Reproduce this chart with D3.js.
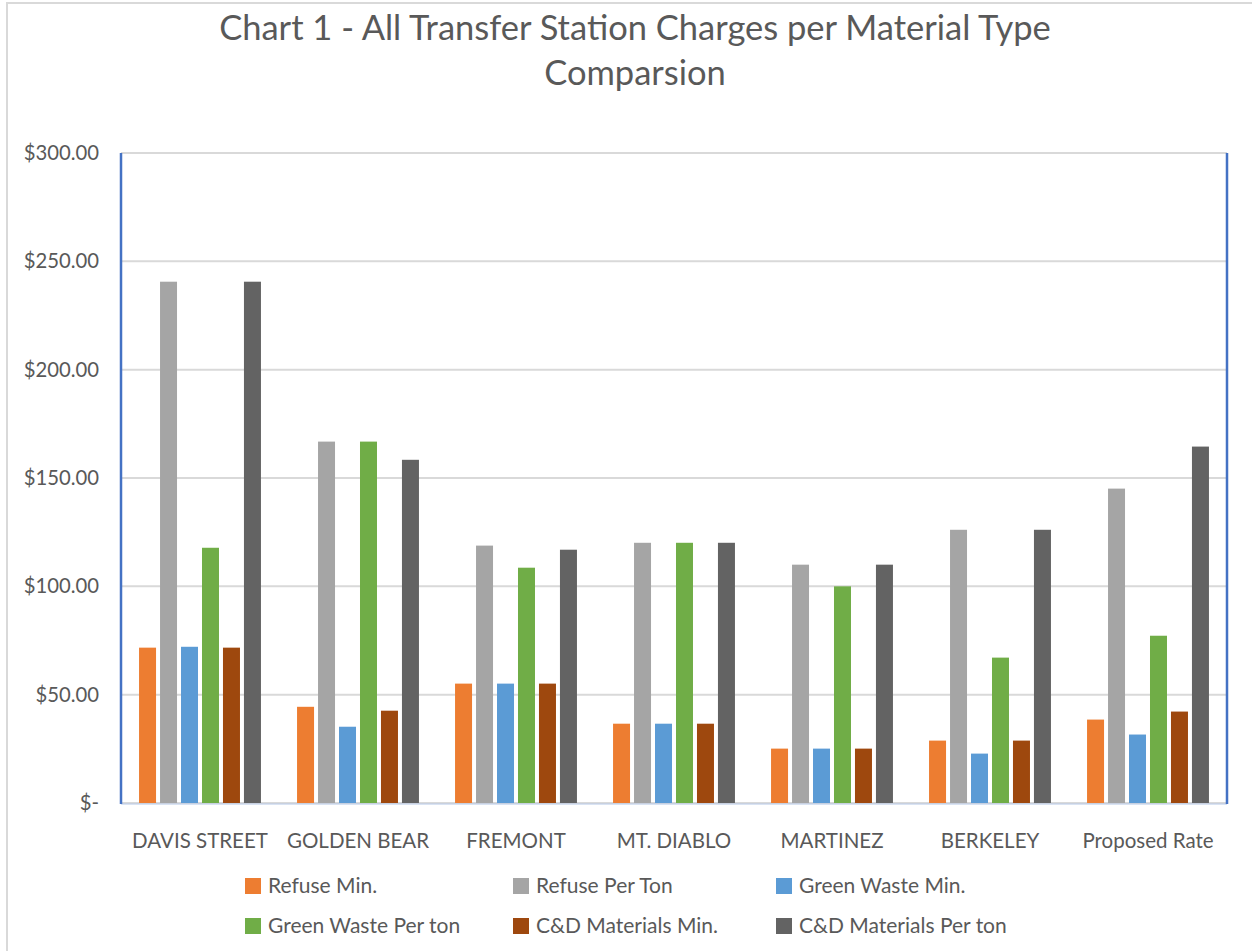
<!DOCTYPE html>
<html>
<head>
<meta charset="utf-8">
<script src="https://cdn.jsdelivr.net/npm/d3@7"></script>
<style>
  body { margin: 0; background: #fff; }
  svg { display: block; font-family: Lato, "Open Sans", sans-serif; }
  .tick text { fill: #595959; }
</style>
</head>
<body>
<svg id="chart" width="1252" height="951"></svg>
<script>
const stations = ["DAVIS STREET", "GOLDEN BEAR", "FREMONT", "MT. DIABLO", "MARTINEZ", "BERKELEY", "Proposed Rate"];
const seriesNames = ["Refuse Min.", "Refuse Per Ton", "Green Waste Min.", "Green Waste Per ton", "C&D Materials Min.", "C&D Materials Per ton"];
const seriesColors = ["#ED7D31", "#A5A5A5", "#5B9BD5", "#70AD47", "#9E480E", "#636363"];

const refuseMin = [71.7, 44.4, 55.1, 36.6, 25.1, 28.8, 38.5];
const refusePerTon = [240.6, 166.8, 118.8, 120.1, 110.0, 126.1, 145.1];
const greenMin = [72.1, 35.2, 55.1, 36.6, 25.1, 22.8, 31.6];
const greenPerTon = [117.8, 166.8, 108.6, 120.1, 100.0, 67.1, 77.2];
const cdMin = [71.7, 42.6, 55.1, 36.6, 25.1, 28.8, 42.2];
const cdPerTon = [240.6, 158.4, 116.9, 120.1, 110.0, 126.1, 164.5];

const yTicks = [0, 50, 100, 150, 200, 250, 300];

const seriesValues = [refuseMin, refusePerTon, greenMin, greenPerTon, cdMin, cdPerTon];

const svg = d3.select("#chart");
const margin = { left: 121, right: 1227, top: 153, bottom: 803 };

// Outer chart border
svg.append("rect")
  .attr("x", 7).attr("y", 3)
  .attr("width", 1250).attr("height", 960)
  .attr("fill", "none")
  .attr("stroke", "#d9d9d9")
  .attr("stroke-width", 2);

// Title
const title = svg.append("text")
  .attr("text-anchor", "middle")
  .attr("fill", "#595959")
  .attr("font-size", 34.5);
title.append("tspan").attr("x", 635).attr("y", 40).text("Chart 1 - All Transfer Station Charges per Material Type");
title.append("tspan").attr("x", 635).attr("y", 85).text("Comparsion");

const x0 = d3.scaleBand()
  .domain(stations)
  .range([margin.left, margin.right])
  .padding(0);

const x1 = d3.scaleBand()
  .domain(d3.range(seriesNames.length))
  .range([0, x0.bandwidth()])
  .paddingInner(0.19)
  .paddingOuter(0.86);

const y = d3.scaleLinear()
  .domain([0, 300])
  .range([margin.bottom, margin.top]);

// Gridlines
svg.append("g")
  .selectAll("line")
  .data(yTicks)
  .join("line")
  .attr("x1", margin.left)
  .attr("x2", margin.right)
  .attr("y1", d => y(d))
  .attr("y2", d => y(d))
  .attr("stroke", "#d9d9d9")
  .attr("stroke-width", 2);

// Y axis labels
const yAxis = svg.append("g")
  .attr("transform", `translate(${margin.left},0)`)
  .call(d3.axisLeft(y)
    .tickValues(yTicks)
    .tickSize(0)
    .tickPadding(22)
    .tickFormat(d => d === 0 ? "$-" : "$" + d3.format(".2f")(d)));
yAxis.select(".domain").remove();
yAxis.selectAll("text").attr("font-size", 20.3).attr("font-family", "Lato, sans-serif");

// Bars
const groups = svg.append("g")
  .selectAll("g")
  .data(stations)
  .join("g")
  .attr("transform", d => `translate(${x0(d)},0)`);

groups.selectAll("rect")
  .data((d, i) => seriesValues.map((vals, s) => ({ s, v: vals[i] })))
  .join("rect")
  .attr("x", d => x1(d.s))
  .attr("width", x1.bandwidth())
  .attr("y", d => y(d.v))
  .attr("height", d => y(0) - y(d.v))
  .attr("fill", d => seriesColors[d.s]);

// Plot area border
svg.append("line")
  .attr("x1", margin.left).attr("x2", margin.right)
  .attr("y1", margin.bottom + 1).attr("y2", margin.bottom + 1)
  .attr("stroke", "#b4c7e7").attr("stroke-width", 1);
svg.append("line")
  .attr("x1", margin.left).attr("x2", margin.left)
  .attr("y1", margin.top).attr("y2", margin.bottom + 1)
  .attr("stroke", "#4472C4").attr("stroke-width", 2.5);
svg.append("line")
  .attr("x1", margin.right).attr("x2", margin.right)
  .attr("y1", margin.top).attr("y2", margin.bottom + 1)
  .attr("stroke", "#4472C4").attr("stroke-width", 2.5);

// X axis labels
const xAxis = svg.append("g")
  .attr("transform", `translate(0,${margin.bottom})`)
  .call(d3.axisBottom(x0).tickSize(0).tickPadding(30));
xAxis.select(".domain").remove();
xAxis.selectAll("text").attr("font-size", 20.5).attr("font-family", "Lato, sans-serif");

// Legend
const legendCols = [245, 513, 776];
const legendRows = [886, 926];
const legend = svg.append("g")
  .selectAll("g")
  .data(seriesNames)
  .join("g")
  .attr("transform", (d, i) => `translate(${legendCols[i % 3]},${legendRows[Math.floor(i / 3)]})`);
legend.append("rect")
  .attr("x", 0).attr("y", -8)
  .attr("width", 16).attr("height", 16)
  .attr("fill", (d, i) => seriesColors[i]);
legend.append("text")
  .attr("x", 23).attr("y", 0)
  .attr("dy", "0.35em")
  .attr("font-size", 21)
  .attr("fill", "#595959")
  .text(d => d);
</script>
</body>
</html>
